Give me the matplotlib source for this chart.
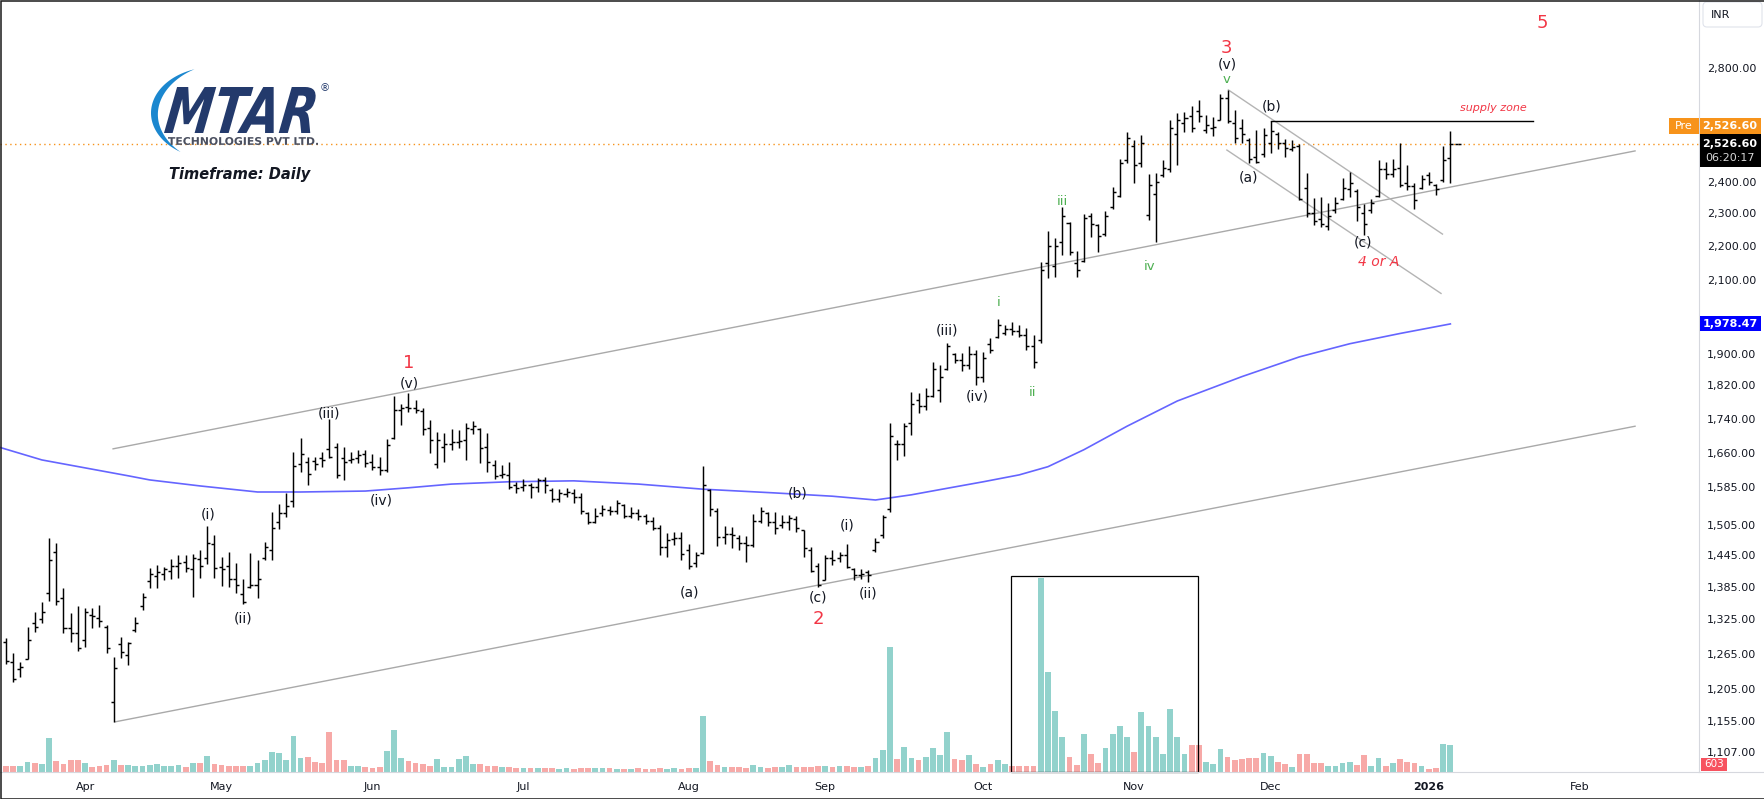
import numpy as np
import matplotlib
matplotlib.use("Agg")
import matplotlib.pyplot as plt
from matplotlib.transforms import IdentityTransform, Affine2D
from matplotlib.patches import Rectangle, FancyBboxPatch, PathPatch, Polygon
from matplotlib.textpath import TextPath
from matplotlib.font_manager import FontProperties
from matplotlib.ticker import NullLocator, FixedLocator, FixedFormatter
from matplotlib.lines import Line2D

# ---------------- data (daily OHLC, MTAR Technologies) ----------------
opens = [1285, 1250, 1238, 1256, 1318, 1326, 1374, 1451, 1364, 1310, 1301, 1288, 1333, 1328, 1311, 1185, 1282, 1262, 1306, 1350,
         1395, 1405, 1410, 1415, 1425, 1432, 1418, 1438, 1440, 1468, 1422, 1425, 1400, 1372, 1384, 1388, 1440, 1455, 1512, 1530,
         1555, 1635, 1640, 1642, 1650, 1670, 1675, 1650, 1645, 1650, 1658, 1640, 1630, 1622, 1695, 1760, 1768, 1765, 1758, 1718,
         1635, 1675, 1680, 1685, 1690, 1716, 1715, 1675, 1634, 1612, 1612, 1590, 1585, 1590, 1585, 1600, 1580, 1560, 1570, 1572,
         1565, 1530, 1512, 1530, 1538, 1535, 1548, 1525, 1530, 1525, 1515, 1500, 1462, 1478, 1480, 1455, 1430, 1450, 1580, 1535,
         1482, 1488, 1480, 1470, 1465, 1515, 1530, 1512, 1505, 1512, 1518, 1495, 1455, 1425, 1398, 1440, 1440, 1445, 1418, 1408,
         1412, 1455, 1485, 1540, 1682, 1680, 1730, 1785, 1770, 1795, 1810, 1860, 1900, 1885, 1870, 1900, 1840, 1925, 1945, 1955,
         1965, 1960, 1950, 1920, 1935, 2150, 2140, 2210, 2270, 2150, 2155, 2290, 2262, 2235, 2320, 2355, 2470, 2520, 2460, 2294,
         2360, 2420, 2440, 2560, 2600, 2625, 2640, 2575, 2580, 2610, 2690, 2600, 2580, 2540, 2480, 2490, 2530, 2560, 2530, 2510,
         2520, 2380, 2300, 2280, 2260, 2310, 2345, 2375, 2370, 2300, 2310, 2355, 2440, 2425, 2445, 2395, 2385, 2380, 2420, 2390,
         2405, 2478, 2526.6]
highs = [1292, 1266, 1250, 1311, 1338, 1357, 1480, 1470, 1382, 1336, 1349, 1346, 1346, 1351, 1315, 1259, 1294, 1285, 1329, 1373,
         1421, 1426, 1422, 1438, 1446, 1446, 1448, 1456, 1504, 1486, 1442, 1452, 1430, 1400, 1450, 1436, 1472, 1533, 1550, 1573,
         1663, 1695, 1652, 1652, 1663, 1739, 1683, 1674, 1663, 1667, 1667, 1658, 1652, 1692, 1794, 1775, 1801, 1784, 1765, 1737,
         1708, 1706, 1716, 1713, 1730, 1734, 1718, 1706, 1645, 1634, 1640, 1596, 1603, 1594, 1605, 1607, 1584, 1581, 1584, 1581,
         1573, 1533, 1541, 1548, 1545, 1558, 1550, 1543, 1539, 1529, 1522, 1506, 1490, 1492, 1492, 1468, 1452, 1632, 1581, 1541,
         1504, 1502, 1486, 1484, 1529, 1543, 1533, 1533, 1527, 1527, 1524, 1496, 1462, 1430, 1446, 1456, 1452, 1468, 1421, 1419,
         1417, 1480, 1527, 1730, 1690, 1730, 1804, 1801, 1814, 1879, 1871, 1928, 1902, 1902, 1920, 1910, 1904, 1941, 1992, 1976,
         1984, 1976, 1968, 1949, 2152, 2244, 2223, 2319, 2272, 2184, 2297, 2300, 2266, 2306, 2383, 2475, 2567, 2539, 2557, 2425,
         2428, 2471, 2609, 2634, 2638, 2659, 2681, 2627, 2620, 2703, 2718, 2645, 2613, 2546, 2574, 2581, 2606, 2567, 2543, 2539,
         2526, 2428, 2347, 2350, 2331, 2350, 2412, 2431, 2376, 2328, 2344, 2471, 2465, 2475, 2529, 2455, 2395, 2422, 2431, 2392,
         2519, 2571, 2526.6]
lows = [1247, 1217, 1225, 1256, 1302, 1318, 1358, 1351, 1301, 1285, 1269, 1276, 1310, 1311, 1266, 1153, 1257, 1245, 1302, 1342,
        1382, 1382, 1398, 1400, 1401, 1413, 1366, 1401, 1428, 1401, 1386, 1384, 1373, 1353, 1382, 1364, 1436, 1436, 1498, 1522,
        1543, 1618, 1590, 1623, 1629, 1649, 1605, 1601, 1638, 1638, 1629, 1623, 1612, 1618, 1692, 1725, 1756, 1753, 1702, 1661,
        1627, 1640, 1667, 1672, 1645, 1704, 1638, 1618, 1603, 1605, 1581, 1573, 1577, 1562, 1575, 1573, 1554, 1554, 1564, 1552,
        1529, 1508, 1510, 1524, 1527, 1529, 1520, 1520, 1516, 1508, 1496, 1446, 1442, 1466, 1436, 1419, 1422, 1448, 1524, 1464,
        1468, 1460, 1456, 1432, 1462, 1510, 1504, 1488, 1500, 1496, 1492, 1442, 1413, 1384, 1398, 1426, 1432, 1421, 1398, 1400,
        1394, 1452, 1480, 1533, 1645, 1654, 1702, 1753, 1760, 1792, 1780, 1859, 1876, 1856, 1861, 1821, 1829, 1902, 1941, 1949,
        1949, 1944, 1910, 1864, 1928, 2106, 2109, 2172, 2172, 2109, 2152, 2226, 2181, 2229, 2312, 2350, 2461, 2396, 2448, 2278,
        2211, 2415, 2432, 2455, 2567, 2567, 2602, 2564, 2553, 2609, 2599, 2529, 2529, 2461, 2461, 2481, 2495, 2509, 2481, 2502,
        2341, 2287, 2263, 2257, 2247, 2300, 2341, 2350, 2275, 2232, 2300, 2350, 2409, 2415, 2383, 2373, 2312, 2376, 2389, 2357,
        2399, 2395, 2526.6]
closes = [1252, 1222, 1242, 1288, 1312, 1338, 1436, 1358, 1310, 1300, 1274, 1338, 1331, 1322, 1274, 1240, 1268, 1283, 1318, 1366,
          1410, 1412, 1418, 1424, 1430, 1420, 1440, 1425, 1470, 1420, 1418, 1400, 1388, 1356, 1388, 1400, 1462, 1500, 1530, 1545,
          1632, 1658, 1615, 1636, 1645, 1652, 1612, 1640, 1648, 1655, 1638, 1630, 1622, 1678, 1760, 1765, 1765, 1760, 1715, 1690,
          1690, 1682, 1685, 1688, 1718, 1722, 1672, 1640, 1610, 1615, 1585, 1583, 1590, 1585, 1600, 1590, 1560, 1572, 1574, 1565,
          1535, 1512, 1525, 1540, 1535, 1552, 1525, 1530, 1525, 1515, 1500, 1462, 1475, 1480, 1448, 1425, 1445, 1590, 1540, 1482,
          1488, 1485, 1470, 1465, 1515, 1535, 1512, 1500, 1512, 1520, 1500, 1460, 1415, 1388, 1440, 1436, 1445, 1422, 1408, 1410,
          1408, 1472, 1522, 1700, 1680, 1722, 1775, 1770, 1795, 1860, 1840, 1920, 1885, 1870, 1900, 1840, 1890, 1910, 1975, 1965,
          1960, 1950, 1920, 1880, 2130, 2200, 2200, 2290, 2180, 2130, 2285, 2265, 2230, 2290, 2365, 2460, 2545, 2455, 2530, 2389,
          2400, 2445, 2580, 2610, 2615, 2580, 2625, 2590, 2585, 2690, 2605, 2545, 2560, 2475, 2465, 2555, 2570, 2530, 2512, 2515,
          2345, 2300, 2275, 2265, 2290, 2330, 2380, 2395, 2320, 2265, 2330, 2440, 2425, 2440, 2390, 2385, 2340, 2410, 2400, 2375,
          2470, 2526.6, 2526.6]
# volume in units of 25,000 shares
volume = [6, 6, 6, 10, 9, 8, 34, 11, 8, 12, 12, 9, 5, 6, 7, 12, 7, 7, 6, 6,
          7, 8, 6, 6, 7, 5, 9, 9, 16, 8, 7, 6, 6, 6, 6, 9, 12, 20, 19, 12,
          36, 14, 15, 10, 9, 40, 12, 12, 6, 6, 5, 4, 5, 21, 42, 14, 11, 9, 8, 6,
          13, 5, 5, 13, 16, 8, 8, 6, 6, 5, 5, 4, 4, 4, 4, 4, 4, 3, 4, 3,
          4, 4, 4, 4, 4, 3, 3, 3, 4, 3, 3, 4, 3, 4, 3, 4, 4, 56, 11, 7,
          5, 5, 5, 4, 7, 5, 4, 5, 5, 7, 5, 5, 5, 6, 6, 5, 6, 6, 5, 5,
          6, 14, 22, 125, 13, 25, 14, 12, 15, 24, 17, 40, 13, 12, 17, 8, 5, 8, 12, 8,
          6, 6, 6, 6, 194, 100, 61, 35, 15, 7, 38, 18, 9, 24, 38, 46, 35, 20, 60, 46,
          35, 18, 63, 35, 18, 27, 27, 10, 8, 23, 15, 12, 13, 14, 14, 19, 16, 10, 8, 5,
          18, 18, 9, 9, 6, 6, 9, 10, 7, 17, 6, 14, 6, 9, 13, 10, 9, 6, 3, 4,
          28, 27, 0.024]
# moving average (at selected bars)
ma_idx = [-1, 5, 17, 20, 27, 35, 41, 50, 56, 62, 70, 79, 88, 97, 107, 115, 121, 126, 131, 136, 141, 145, 150, 156, 163, 172, 180, 187, 194, 201]
ma_val = [1674, 1645, 1610, 1601, 1588, 1575, 1575, 1577, 1584, 1592, 1597, 1599, 1592, 1581, 1573, 1566, 1558, 1569, 1583, 1597, 1612, 1630, 1668, 1722, 1782, 1842, 1892, 1926, 1953, 1978.47]

month_idx = [11, 30, 51, 72, 95, 114, 136, 157, 176, 198, 219]
month_lbl = ['Apr', 'May', 'Jun', 'Jul', 'Aug', 'Sep', 'Oct', 'Nov', 'Dec', '2026', 'Feb']
price_ticks = [1107, 1155, 1205, 1265, 1325, 1385, 1445, 1505, 1585, 1660, 1740, 1820, 1900,
               2100, 2200, 2300, 2400, 2600, 2800]

# trend / channel drawings (bar index, price)
lower_channel = ([15.2, 226.7], [1153, 1722])
upper_channel = ([14.9, 226.7], [1670, 2502])
corr_upper = ([170.1, 199.9], [2718, 2235])
corr_lower = ([169.9, 199.7], [2505, 2062])
supply_line = ([176, 212.5], [2606, 2606])
last_price = 2526.60
ma_last = 1978.47

# wave labels: (bar index, price, text)
black_labels = [(28.1, 1527, '(i)'), (33.0, 1327, '(ii)'), (45.0, 1753, '(iii)'), (52.2, 1556, '(iv)'),
                (56.1, 1826, '(v)'), (95.1, 1375, '(a)'), (110.1, 1571, '(b)'), (113.0, 1364, '(c)'),
                (117.0, 1506, '(i)'), (120.0, 1373, '(ii)'), (131.0, 1962, '(iii)'), (135.1, 1792, '(iv)'),
                (169.9, 2815, '(v)'), (172.9, 2415, '(a)'), (176.1, 2659, '(b)'), (188.9, 2211, '(c)')]
green_labels = [(138.1, 2036, 'i'), (142.8, 1802, 'ii'), (147.0, 2335, 'iii'), (159.1, 2140, 'iv'), (169.9, 2755, 'v')]
red_labels = [(56.1, 1876, '1'), (113.0, 1326, '2'), (169.9, 2877, '3'), (213.8, 2976, '5')]

# ---------------- figure ----------------
W, H = 1765, 799
PR, PB = 1699, 772
fig = plt.figure(figsize=(W / 100, H / 100), dpi=100)
fig.patch.set_facecolor('white')
ax = fig.add_axes([0, (H - PB) / H, PR / W, PB / H])
ax_v = ax.twinx()
ax.set_zorder(ax_v.get_zorder() + 1)
ax.patch.set_visible(False)
ax_v.patch.set_visible(False)

idx = np.arange(len(opens))
o = np.array(opens, float); h = np.array(highs, float); l = np.array(lows, float); c = np.array(closes, float)
vol = np.array(volume, float)

# volume
vcol = ['#92d2cc' if cc > oo else '#f7a9a7' for oo, cc in zip(o, c)]
ax_v.bar(idx, vol, width=0.8, color=vcol, linewidth=0)
ax_v.set_ylim(0, vol.max() / 0.2513)
ax_v.set_yticks([])
for s in ax_v.spines.values():
    s.set_visible(False)
ax_v.add_patch(Rectangle((139.9, 0), 26.0, 196, fill=False, ec='#000000', lw=0.9, clip_on=False))

# price
ax.set_yscale('log')
ax.set_xlim(-0.835, 235.6)
ax.set_ylim(1077.1, 3070.7)
ax.vlines(idx, l, h, color='#000000', lw=1.05, zorder=3)
ax.hlines(o, idx - 0.42, idx, color='#000000', lw=1.05, zorder=3)
ax.hlines(c, idx, idx + 0.42, color='#000000', lw=1.05, zorder=3)

ax.plot(ma_idx, ma_val, color='#4a4aff', lw=1.2, alpha=0.85, zorder=2)
for xs, ys in (lower_channel, upper_channel):
    ax.plot(xs, ys, color='#a9a9a9', lw=1.0, zorder=2)
for xs, ys in (corr_upper, corr_lower):
    ax.plot(xs, ys, color='#b4b4b4', lw=1.0, zorder=2)
ax.plot(*supply_line, color='#000000', lw=1.0, zorder=2)
ax.axhline(last_price, color='#f7931a', lw=1.0, ls=(0, (1, 2.5)), zorder=1)

for x, y, s in black_labels:
    ax.text(x, y, s, ha='center', va='center', fontsize=10, color='#131722', zorder=5)
for x, y, s in green_labels:
    ax.text(x, y, s, ha='center', va='center', fontsize=9.5, color='#4caf50', zorder=5)
for x, y, s in red_labels:
    ax.text(x, y, s, ha='center', va='center', fontsize=13, color='#f23645', zorder=5)
ax.text(191.0, 2152, '4 or A', ha='center', va='center', fontsize=10, color='#f23645', style='italic', zorder=5)
ax.text(207.0, 2652, 'supply zone', ha='center', va='center', fontsize=8, color='#f23645', style='italic', zorder=5)

# axes styling
ax.yaxis.tick_right()
ax.yaxis.set_major_locator(FixedLocator(price_ticks))
ax.yaxis.set_major_formatter(FixedFormatter([f"{t:,.2f}" for t in price_ticks]))
ax.yaxis.set_minor_locator(NullLocator())
ax.tick_params(axis='y', length=0, pad=5.8, labelsize=8, colors='#131722')
ax.set_xticks(month_idx)
ax.set_xticklabels(month_lbl)
ax.tick_params(axis='x', length=0, pad=7, labelsize=8, colors='#131722')
ax.get_xticklabels()[month_lbl.index('2026')].set_fontweight('bold')
for s in ('top', 'left'):
    ax.spines[s].set_visible(False)
for s in ('right', 'bottom'):
    ax.spines[s].set_color('#d6d8de')
    ax.spines[s].set_linewidth(0.8)
fig.add_artist(Line2D([PR, W], [H - PB, H - PB], transform=IdentityTransform(), color='#d6d8de', lw=0.8))

# ---------------- right axis labels ----------------
def ydisp(p):
    return ax.transData.transform((0, p))[1]

def box(x0, x1, yc, hgt, fc, ec='none'):
    fig.add_artist(Rectangle((x0, yc - hgt / 2), x1 - x0, hgt, transform=IdentityTransform(),
                             fc=fc, ec=ec, zorder=20))

def ftxt(x, y, s, **kw):
    kw.setdefault('zorder', 21)
    fig.text(x / W, y / H, s, **kw)

yl = ydisp(last_price)
box(1700, 1761, yl - 7, 33, '#000000')
ftxt(1730, yl, f"{last_price:,.2f}", ha='center', va='center', fontsize=8, color='white', fontweight='bold')
ftxt(1730, yl - 14, '06:20:17', ha='center', va='center', fontsize=8, color='#d8d8d8')
yo = yl + 17.5
box(1700, 1761, yo, 16, '#f7931a')
ftxt(1730, yo, f"{last_price:,.2f}", ha='center', va='center', fontsize=8, color='white', fontweight='bold')
box(1669, 1699, yo, 16, '#f7931a')
ftxt(1684, yo, 'Pre', ha='center', va='center', fontsize=8, color='white')
ym = ydisp(ma_last)
box(1700, 1761, ym, 15, '#0000ff')
ftxt(1730, ym, f"{ma_last:,.2f}", ha='center', va='center', fontsize=8, color='white', fontweight='bold')
box(1701, 1727, H - 764, 13, '#f7525f')
ftxt(1714, H - 764, '603', ha='center', va='center', fontsize=7.5, color='white')
fig.add_artist(FancyBboxPatch((1703, H - 27), 59, 25, boxstyle='round,pad=0,rounding_size=4',
                              transform=IdentityTransform(), fc='white', ec='#e0e3eb', lw=0.8, zorder=20))
ftxt(1721, H - 15, 'INR', ha='center', va='center', fontsize=8, color='#131722')

# ---------------- logo ----------------
t0, t1 = np.radians(108), np.radians(238)
tt = np.linspace(t0, t1, 80)
th = 7 * np.sin(np.pi * (tt - t0) / (t1 - t0))
cx, cy, rx, ry = 214, 113, 63, 46
outer = np.column_stack([cx + rx * np.cos(tt), H - (cy - ry * np.sin(tt))])
inner = np.column_stack([cx + (rx - th) * np.cos(tt), H - (cy - (ry - th) * np.sin(tt))])
fig.add_artist(Polygon(np.vstack([outer, inner[::-1]]), closed=True, transform=IdentityTransform(),
                       fc='#1b87cf', ec='none', zorder=20))

def fit_text(s, x0, x1, ytop, ybot, color, prop, skew=0):
    tp = TextPath((0, 0), s, size=100, prop=prop)
    bb = tp.get_extents()
    tr = (Affine2D().translate(-bb.x0, -bb.y0).skew_deg(skew, 0)
          .scale((x1 - x0) / (bb.width + bb.height * np.tan(np.radians(skew))), (ybot - ytop) / bb.height)
          .translate(x0, H - ybot))
    fig.add_artist(PathPatch(tr.transform_path(tp), fc=color, ec='none', transform=IdentityTransform(), zorder=20))

fit_text('MTAR', 164, 317, 87, 133, '#233a6c', FontProperties(family='DejaVu Sans', weight='bold', style='italic'), skew=10)
fit_text('TECHNOLOGIES PVT LTD.', 168, 318, 137, 145, '#4b5060', FontProperties(family='DejaVu Sans', weight='bold'))
ftxt(325, H - 88, '®', ha='center', va='center', fontsize=7.5, color='#233a6c')
ftxt(169, H - 174, 'Timeframe: Daily', ha='left', va='center', fontsize=10.5, color='#131722',
     fontweight='bold', style='italic')

# outer frame
fig.add_artist(Rectangle((0.5, 0.5), W - 1, H - 1, transform=IdentityTransform(), fill=False,
                         ec='#1a1a1a', lw=1.1, zorder=30))

fig.savefig('out.png', dpi=100, facecolor='white')
